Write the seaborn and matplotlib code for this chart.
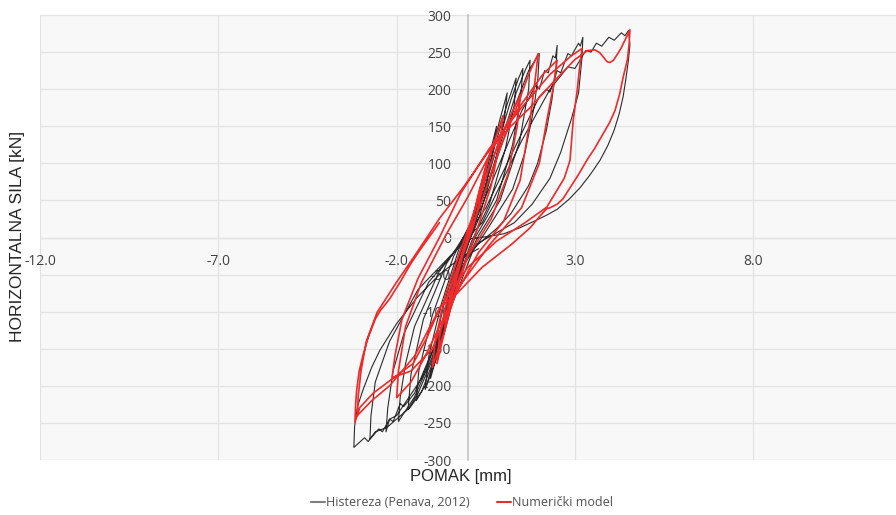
import matplotlib
matplotlib.use('Agg')
import matplotlib.pyplot as plt
import seaborn as sns
from matplotlib.lines import Line2D

# displacement [mm] / force [kN], one row per cycle
# experiment (Penava, 2012)
hist_x = [0.0, 0.25, 0.5, 0.42, 0.2, 0.0, -0.3, -0.55, -0.48, -0.25, -0.05,
          0.2, 0.5, 0.8, 0.72, 0.5, 0.15, -0.2, -0.5, -0.8, -0.72, -0.45, -0.1,
          0.25, 0.6, 0.9, 1.1, 1.02, 0.75, 0.3, -0.1, -0.5, -0.85, -1.05, -0.95, -0.65, -0.2,
          0.3, 0.7, 1.1, 1.35, 1.3, 1.05, 0.6, 0.1, -0.4, -0.9, -1.2, -1.1, -0.75, -0.25,
          0.3, 0.8, 1.2, 1.42, 1.54, 1.48, 1.25, 0.8, 0.2, -0.4, -1.0, -1.3, -1.45, -1.38, -1.0, -0.4,
          0.4, 0.9, 1.35, 1.6, 1.74, 1.7, 1.45, 0.9, 0.3, -0.4, -1.0, -1.4, -1.68, -1.6, -1.25, -0.6,
          0.2, 0.8, 1.3, 1.7, 2.0, 1.96, 1.85, 1.6, 1.25, 0.5, -0.3, -0.9, -1.5, -1.95, -1.9,
          -1.75, -1.5, -0.8,
          0.1, 0.8, 1.5, 1.9, 2.0, 2.15, 2.25, 2.38, 2.45, 2.5, 2.47, 2.35, 2.2, 1.95, 1.7, 1.2,
          0.8, -0.1, -0.8, -1.5, -1.8, -1.9, -2.1, -2.2, -2.3, -2.25, -2.1, -1.8, -1.1, -0.3,
          0.5, 1.3, 2.0, 2.2, 2.3, 2.5, 2.6, 2.8, 2.9, 3.1, 3.15, 3.22, 3.2, 3.1, 2.9, 2.6,
          2.3, 1.8, 1.3, 0.2, -0.6, -1.3, -2.0, -2.2, -2.4, -2.5, -2.75, -2.72, -2.6, -2.2,
          -1.4, -0.5,
          0.4, 1.5, 2.3, 2.8, 3.0, 3.3, 3.45, 3.6, 3.75, 3.95, 4.1, 4.3, 4.4, 4.5, 4.54, 4.5,
          4.43, 4.35, 4.24, 4.1, 3.92, 3.7, 3.43, 3.14, 2.82, 2.5, 2.2, 1.9, 1.45, 1.0, 0.5,
          0.0, -0.6, -1.15, -1.62, -2.27, -2.6, -2.8, -2.9, -3.2,
          -3.18, -3.1, -2.94, -2.7, -2.47, -2.0, -1.43, -0.78, -0.3, 0.3]
hist_y = [0, 45, 95, 70, 20, -10, -55, -100, -75, -25, 0,
          35, 90, 150, 120, 70, 10, -30, -90, -150, -120, -60, -5,
          40, 105, 160, 195, 160, 100, 25, -20, -90, -155, -190, -150, -85, -15,
          45, 115, 180, 215, 180, 120, 45, -5, -75, -165, -205, -160, -90, -15,
          40, 120, 185, 215, 228, 190, 125, 50, 0, -70, -170, -208, -220, -180, -105, -25,
          50, 125, 195, 225, 239, 200, 130, 50, 3, -65, -165, -210, -232, -185, -110, -35,
          25, 105, 175, 225, 248, 215, 175, 115, 65, 8, -50, -150, -215, -248, -215,
          -170, -120, -45,
          10, 90, 170, 205, 200, 225, 222, 245, 242, 259, 230, 185, 145, 100, 70, 32,
          12, -25, -130, -210, -228, -224, -248, -245, -262, -230, -180, -130, -60, -15,
          40, 120, 190, 200, 196, 225, 222, 248, 245, 262, 258, 270, 245, 195, 160, 115,
          80, 45, 20, -10, -110, -190, -240, -245, -262, -258, -272, -240, -195, -140,
          -70, -25,
          20, 130, 200, 230, 228, 252, 250, 262, 258, 270, 266, 276, 272, 279, 260, 240,
          215, 190, 167, 145, 124, 104, 85, 67, 51, 38, 30, 23, 13, 5, 1,
          -2, -110, -197, -229, -256, -262, -275, -270, -283,
          -255, -228, -205, -175, -152, -116, -81, -49, -31, -15]

# numerical model
model_x = [0.0, 0.3, 0.55, 0.45, 0.15, -0.15, -0.45, -0.65, -0.55, -0.25,
           0.1, 0.5, 0.98, 0.9, 0.65, 0.25, -0.25, -0.65, -1.0, -0.92, -0.65, -0.3,
           0.1, 0.6, 1.0, 1.46, 1.38, 1.12, 0.65, 0.0, -0.5, -0.87, -0.8, -0.55, -0.15,
           0.35, 0.9, 1.4, 1.7, 1.97, 1.88, 1.74, 1.46, 1.0, 0.3, -0.5, -1.2, -1.6, -2.0,
           -1.95, -1.75, -1.3, -0.6,
           0.0, 0.8, 1.5, 2.1, 2.5, 2.39, 2.21, 2.0, 1.5, 0.6, -0.3, -1.0, -1.6, -2.13,
           -2.05, -1.85, -1.4, -0.8,
           -0.2, 0.6, 1.5, 2.3, 2.9, 3.2, 3.12, 3.06, 2.95, 2.86, 2.7, 2.5, 2.21, 1.6,
           0.8, 0.0, -0.78, -1.5, -2.2, -2.7, -3.1, -3.08, -3.0, -2.85, -2.55, -2.0, -1.5,
           -0.78,
           -0.14, 0.53, 1.2, 1.74, 2.4, 3.0, 3.35, 3.56, 3.7, 3.8, 3.9, 3.98, 4.08, 4.2,
           4.3, 4.4, 4.54, 4.52, 4.47, 4.35, 4.25, 4.12, 3.97, 3.79, 3.55, 3.33, 3.1, 2.86,
           2.66, 2.5, 2.3, 2.21, 2.0, 1.74, 1.2, 0.4, -0.3, -0.78, -1.15, -1.54, -2.19,
           -2.66, -3.03, -3.17, -3.15, -3.12, -3.05, -2.95, -2.8, -2.6, -2.45, -2.2, -1.9,
           -1.6, -1.35, -0.8]
model_y = [0, 60, 105, 75, 15, -25, -80, -120, -90, -35,
           20, 95, 164, 130, 70, 10, -55, -125, -175, -140, -80, -30,
           25, 95, 145, 192, 150, 85, 25, -25, -95, -170, -135, -75, -20,
           45, 120, 180, 220, 248, 212, 158, 77, 22, -20, -90, -160, -195, -216,
           -180, -120, -60, 5,
           55, 130, 180, 220, 239, 202, 158, 100, 40, -10, -70, -150, -180, -189,
           -160, -110, -55, 0,
           60, 120, 175, 220, 245, 255, 225, 198, 158, 104, 80, 64, 41, 20,
           -5, -40, -94, -160, -200, -220, -240, -215, -180, -140, -101, -60, -25,
           27,
           67, 113, 150, 175, 210, 240, 252, 253, 249, 243, 237, 236, 239, 248,
           256, 266, 280, 262, 240, 216, 193, 171, 155, 140, 120, 104, 85, 67,
           52, 45, 40, 39, 28, 13, -10, -40, -75, -94, -135, -170, -193,
           -210, -229, -249, -225, -205, -180, -160, -135, -110, -98, -83, -60,
           -35, -17, 20]

x_ticks = [-12, -7, -2, 3, 8]
y_ticks = list(range(-300, 301, 50))

sns.set_style('whitegrid', {'axes.facecolor': '#f8f8f8', 'grid.color': '#e3e3e3'})
plt.rcParams['font.family'] = ['Open Sans', 'DejaVu Sans']

fig = plt.figure(figsize=(8.96, 5.15), dpi=100)
ax = fig.add_axes([40 / 896, 1 - 460 / 515, 1 - 40 / 896, 445 / 515])

sns.lineplot(x=hist_x, y=hist_y, sort=False, estimator=None, color='#2b2b2b',
             lw=0.8, ax=ax, zorder=3)
sns.lineplot(x=model_x, y=model_y, sort=False, estimator=None, color='#ee2a2a',
             lw=1.2, ax=ax, zorder=4)

ax.set_xlim(-12, 12)
ax.set_ylim(-300, 300)
ax.set_xticks(x_ticks)
ax.set_xticklabels([f'{v:.1f}' for v in x_ticks])
ax.set_yticks(y_ticks)
ax.set_yticklabels([str(v) for v in y_ticks])
ax.grid(True, lw=0.9)

for s in ['top', 'right']:
    ax.spines[s].set_visible(False)
ax.spines['left'].set_position(('data', 0))
ax.spines['left'].set_color('#c4c4c4')
ax.spines['left'].set_linewidth(1.2)
ax.spines['bottom'].set_position(('data', 0))
ax.spines['bottom'].set_color('#e3e3e3')
ax.spines['bottom'].set_linewidth(0.9)
ax.tick_params(axis='x', length=0, pad=12, labelsize=10, labelcolor='#404040')
ax.tick_params(axis='y', length=0, pad=12, labelsize=10, labelcolor='#404040')
ax.set_xlabel('')
ax.set_ylabel('')

fig.text(461 / 896, 1 - 477 / 515, 'POMAK [mm]', ha='center', va='center',
         fontsize=12, color='#262626', family='Liberation Sans')
fig.text(18 / 896, 1 - 236 / 515, 'HORIZONTALNA SILA [kN]', ha='center', va='center',
         rotation=90, fontsize=12.5, color='#262626', family='Liberation Sans')

handles = [Line2D([], [], color='#7f7f7f', lw=1.5),
           Line2D([], [], color='#ee2a2a', lw=1.5)]
fig.legend(handles, ['Histereza (Penava, 2012)', 'Numerički model'],
           loc='center', bbox_to_anchor=(462 / 896, 1 - 503 / 515), ncol=2,
           frameon=False, fontsize=9, handlelength=1.1, handletextpad=0.1,
           columnspacing=2.2, labelcolor='#505050')

fig.savefig('out.png', dpi=100)
